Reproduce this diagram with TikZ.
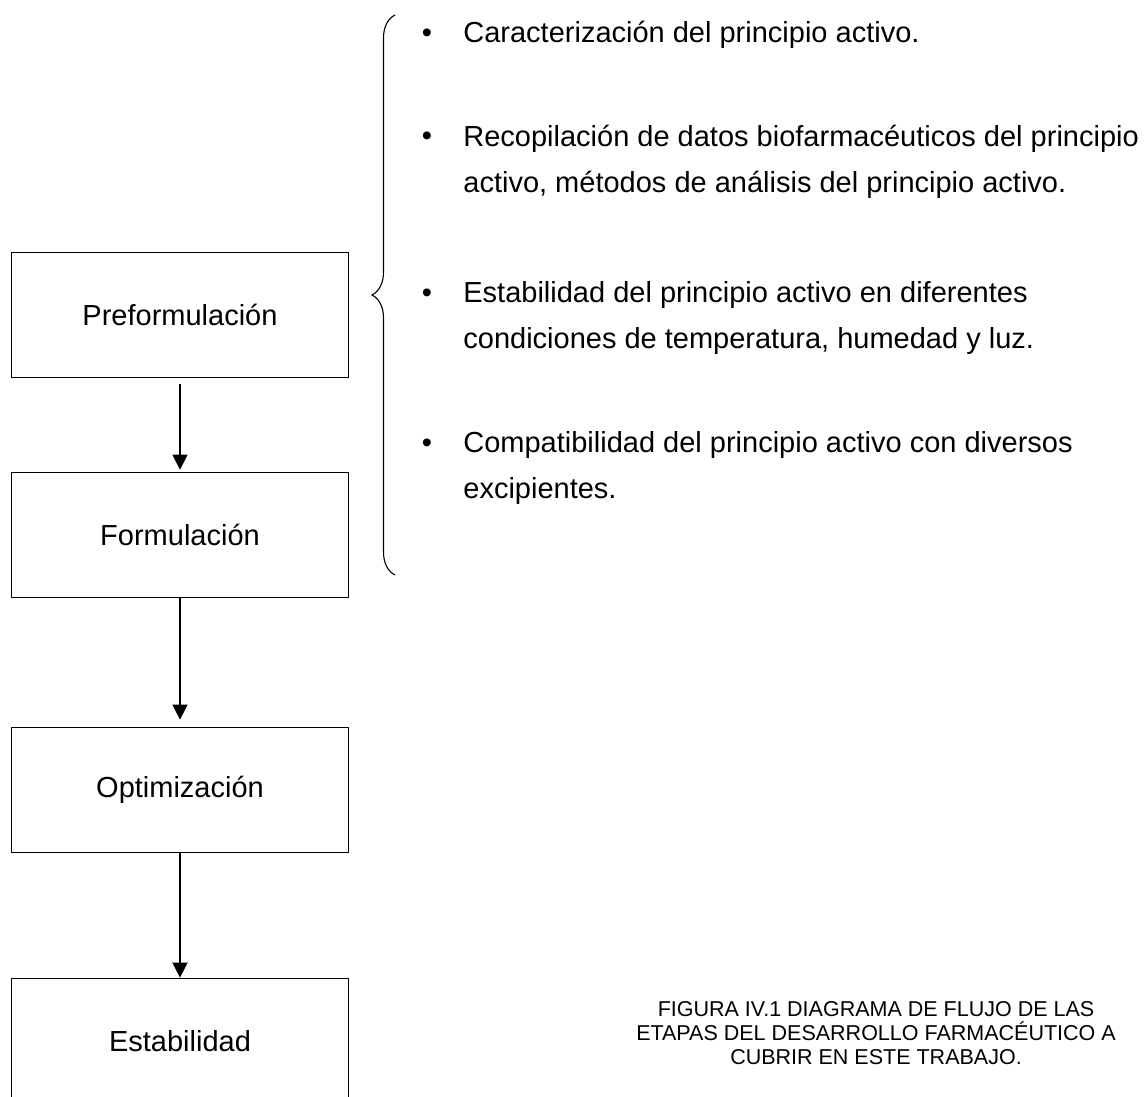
\documentclass[tikz,border=0pt]{standalone}
\usepackage{fontspec}
\setmainfont{Liberation Sans}
\usepackage{xcolor}
\usepackage{tikz}
\usetikzlibrary{arrows.meta,positioning,decorations.pathreplacing}
\definecolor{ink}{HTML}{000000}
\tikzset{
  >={Triangle[width=7.5pt,length=7.5pt]},
  every node/.style={text=ink},
  stage/.style={draw=ink,line width=0.85pt,minimum width=168.5pt,minimum height=62.5pt,inner sep=0pt,font=\fontsize{14.5}{17}\selectfont},
  arrow/.style={->,line width=0.65pt,draw=ink},
  item/.style={anchor=base west,align=left,inner sep=0pt,font=\fontsize{14.5}{23}\selectfont},
  dot/.style={anchor=base,inner sep=0pt,font=\fontsize{14.5}{17}\selectfont},
  caption/.style={align=center,inner sep=0pt,font=\fontsize{10.75}{11.8}\selectfont},
  bracket/.style={decorate,decoration={brace,amplitude=11.5pt},line width=0.55pt,draw=ink}
}

\begin{document}
\begin{tikzpicture}[x=0.5pt,y=-0.5pt]
  \useasboundingbox (0,0) rectangle (1147,1097);

  \node[stage] (pre) at (180,315) {Preformulación};
  \node[stage] (form) at (180,535) {Formulación};
  \node[stage] (opt) at (180,790) {Optimización};
  \node[stage] (est) at (180,1041) {Estabilidad};

  \draw[arrow,shorten <=3pt,shorten >=1pt] (pre) -- (form);
  \draw[arrow,shorten >=3.5pt] (form) -- (opt);
  \draw[arrow] (opt) -- (est);

  \coordinate (bracebot) at (395,575);
  \coordinate (bracetop) at (395,15);
  \draw[bracket] (bracebot) -- (bracetop);

  \node[dot] (d1) at (427,43) {•};
  \node[item] (i1) at (463,43) {Caracterización del principio activo.};
  \node[dot] (d2) at (427,146) {•};
  \node[item] (i2) at (463,192) {Recopilación de datos biofarmacéuticos del principio\\activo, métodos de análisis del principio activo.};
  \node[dot] (d3) at (427,302) {•};
  \node[item] (i3) at (463,348) {Estabilidad del principio activo en diferentes\\condiciones de temperatura, humedad y luz.};
  \node[dot] (d4) at (427,452) {•};
  \node[item] (i4) at (463,498) {Compatibilidad del principio activo con diversos\\excipientes.};

  \node[caption] (cap) at (876,1033) {FIGURA IV.1 DIAGRAMA DE FLUJO DE LAS\\ETAPAS DEL DESARROLLO FARMACÉUTICO A\\CUBRIR EN ESTE TRABAJO.};
\end{tikzpicture}
\end{document}
